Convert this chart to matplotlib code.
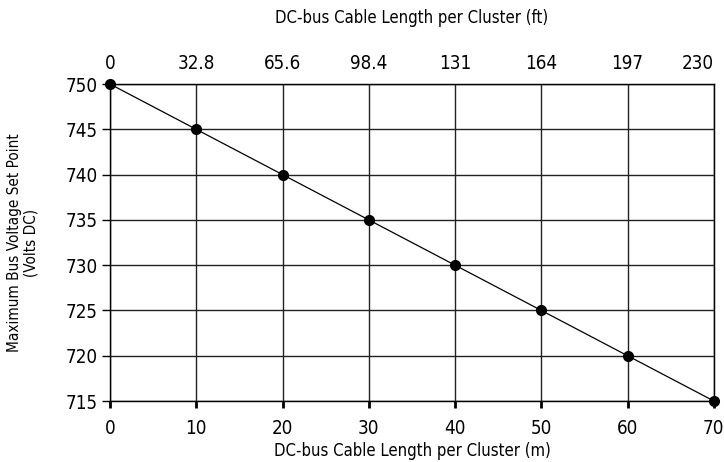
import matplotlib
matplotlib.use("Agg")
import matplotlib.pyplot as plt

plt.rcParams['font.family'] = ['DejaVu Sans']
plt.rcParams['font.stretch'] = 'condensed'

length_m = [0, 10, 20, 30, 40, 50, 60, 70]
voltage = [750, 745, 740, 735, 730, 725, 720, 715]
ft_labels = ["0", "32.8", "65.6", "98.4", "131", "164", "197", "230"]
y_ticks = [715, 720, 725, 730, 735, 740, 745, 750]

fig = plt.figure(figsize=(7.24, 4.62), dpi=100)
ax = fig.add_axes([0.152, 0.132, 0.834, 0.686])

ax.plot(length_m, voltage, color='black', linewidth=0.9, marker='o',
        markersize=7, markerfacecolor='black', zorder=5, clip_on=False)

ax.set_xlim(0, 70)
ax.set_ylim(715, 750)
ax.set_xticks(length_m)
ax.set_yticks(y_ticks)
ax.grid(True, color='#222222', linewidth=1.0)
ax.set_axisbelow(True)
for s in ax.spines.values():
    s.set_color('#222222')
    s.set_linewidth(1.0)
ax.tick_params(axis='x', direction='out', length=5, width=2, labelsize=13.5, pad=8)
ax.tick_params(axis='y', direction='out', length=6, width=1, labelsize=13.5, pad=3)
ax.set_xlabel("DC-bus Cable Length per Cluster (m)", fontsize=12, labelpad=3)
ax.set_ylabel("Maximum Bus Voltage Set Point\n(Volts DC)", fontsize=11, labelpad=19)

top = ax.twiny()
top.set_xlim(ax.get_xlim())
top.set_xticks(length_m)
top.set_xticklabels(ft_labels)
top.tick_params(axis='x', length=0, labelsize=13.5, pad=8)
top.get_xticklabels()[-1].set_horizontalalignment('right')
top.set_xlabel("DC-bus Cable Length per Cluster (ft)", fontsize=12, labelpad=22)

fig.savefig("out.png", dpi=100)
